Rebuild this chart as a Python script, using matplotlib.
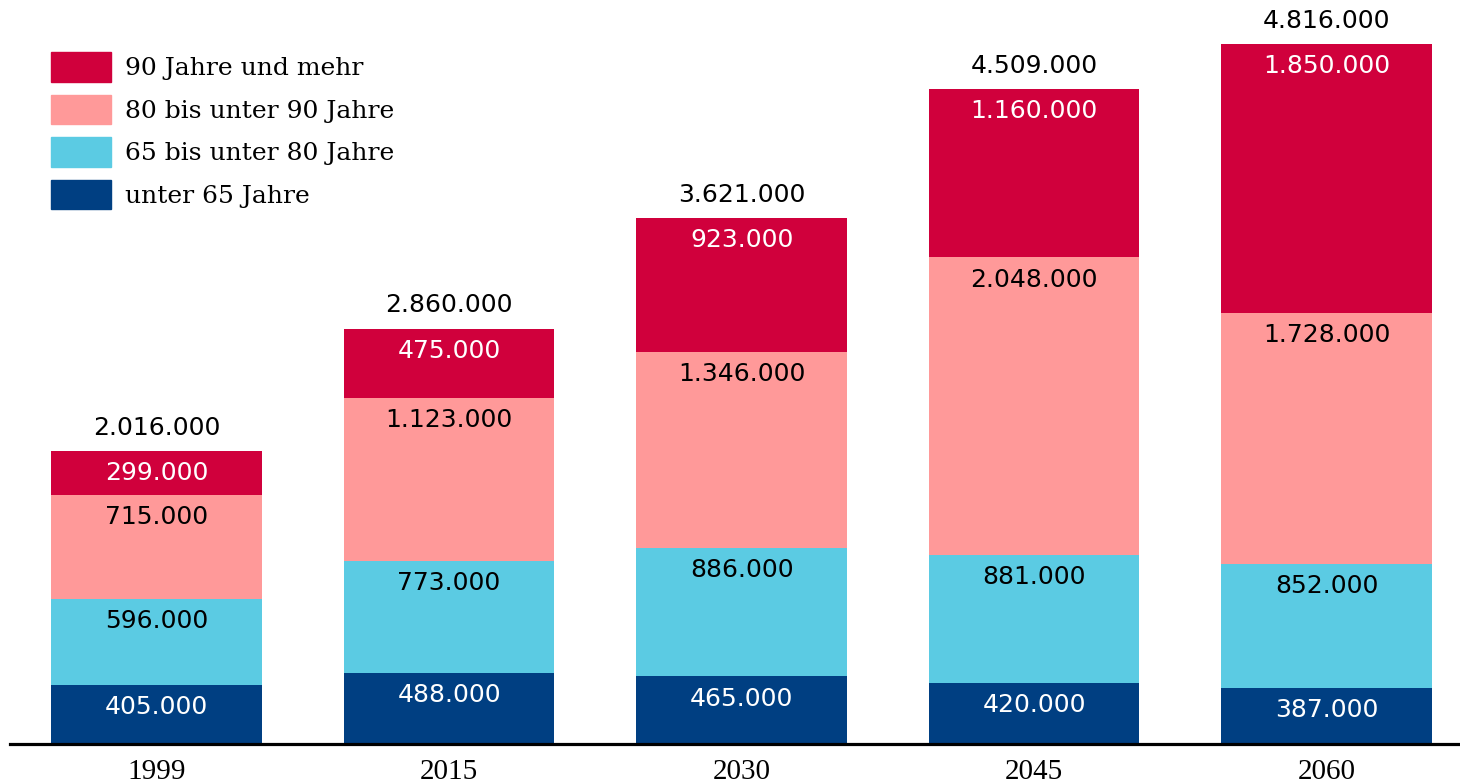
import numpy as np
import matplotlib
matplotlib.use('Agg')
import matplotlib.pyplot as plt
from matplotlib.patches import Patch

years = ['1999', '2015', '2030', '2045', '2060']
under65 = [405000, 488000, 465000, 420000, 387000]
age65_80 = [596000, 773000, 886000, 881000, 852000]
age80_90 = [715000, 1123000, 1346000, 2048000, 1728000]
age90plus = [299000, 475000, 923000, 1160000, 1850000]
totals = [2016000, 2860000, 3621000, 4509000, 4816000]

series = [under65, age65_80, age80_90, age90plus]
names = ['unter 65 Jahre', '65 bis unter 80 Jahre', '80 bis unter 90 Jahre', '90 Jahre und mehr']
colors = ['#003F82', '#5BCBE3', '#FF9999', '#D0003C']
text_colors = ['white', 'black', 'black', 'white']


def fmt(v):
    return '{:,}'.format(v).replace(',', '.')


fig = plt.figure(figsize=(14.6, 7.83), dpi=100)
ax = fig.add_axes([10 / 1460, 39 / 783, 1450 / 1460, 744 / 783])

x = np.arange(len(years))
bottom = np.zeros(len(years))
for vals, col, tc in zip(series, colors, text_colors):
    ax.bar(x, vals, width=0.72, bottom=bottom, color=col, linewidth=0)
    for xi, b, v in zip(x, bottom, vals):
        ax.annotate(fmt(v), xy=(xi, b + v), xytext=(0, -16), textcoords='offset points',
                    ha='center', va='center', color=tc, fontsize=18, family='DejaVu Sans')
    bottom += np.array(vals)

for xi, t in zip(x, totals):
    ax.annotate(fmt(t), xy=(xi, t), xytext=(0, 16.5), textcoords='offset points',
                ha='center', va='center', color='black', fontsize=18, family='DejaVu Sans')

ax.set_xlim(-0.501, 4.456)
ax.set_ylim(0, 5120000)
ax.set_xticks(x)
ax.set_xticklabels(years, family='Liberation Serif', fontsize=21)
ax.tick_params(axis='x', length=0, pad=11)
ax.set_yticks([])
for s in ['top', 'right', 'left']:
    ax.spines[s].set_visible(False)
ax.spines['bottom'].set_linewidth(2.3)

handles = [Patch(color=c, label=n) for c, n in zip(colors, names)][::-1]
ax.legend(handles=handles, loc='upper left', bbox_to_anchor=(51 / 1460, 1 - 52 / 783),
          bbox_transform=fig.transFigure, borderaxespad=0, borderpad=0, frameon=False,
          prop={'family': 'DejaVu Serif', 'size': 18}, handlelength=2.4, handleheight=1.44,
          labelspacing=0.52, handletextpad=0.56)

fig.savefig('out.png', dpi=100)
